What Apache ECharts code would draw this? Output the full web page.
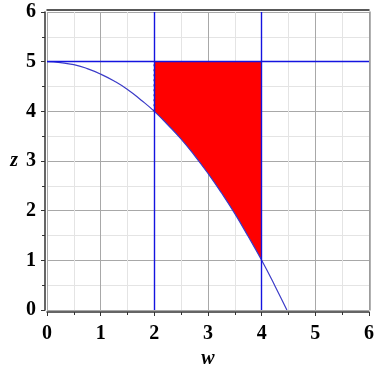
<!DOCTYPE html>
<html>
<head>
<meta charset="utf-8">
<script src="https://cdn.jsdelivr.net/npm/echarts@6/dist/echarts.min.js"></script>
<style>
  html, body { margin: 0; padding: 0; background: #fff; }
  #chart { width: 374px; height: 367px; }
</style>
</head>
<body>
<div id="chart"></div>
<script>
// curve z(w)
const curveW = [0, 0.25, 0.5, 0.75, 1, 1.25, 1.5, 1.75, 2, 2.25, 2.5, 2.75, 3, 3.25, 3.5, 3.75, 4, 4.25, 4.47];
const curveZ = [5, 4.98, 4.94, 4.86, 4.75, 4.61, 4.44, 4.23, 4, 3.73, 3.44, 3.11, 2.75, 2.36, 1.94, 1.48, 1, 0.48, 0];

// bounds of the shaded region
const wLeft = 2;
const wRight = 4;
const zTop = 5;

const tickLabels = ['0', '1', '2', '3', '4', '5', '6'];

const curveData = curveW.map((w, i) => [w, curveZ[i]]);

// region: top edge, then down the curve from wRight back to wLeft
const regionPts = [[wLeft, zTop], [wRight, zTop]];
for (let i = curveW.length - 1; i >= 0; i--) {
  if (curveW[i] >= wLeft && curveW[i] <= wRight) regionPts.push([curveW[i], curveZ[i]]);
}
const leftEdgeBottom = curveZ[curveW.indexOf(wLeft)];

const chart = echarts.init(document.getElementById('chart'));

const labelFont = {
  fontFamily: 'Liberation Serif',
  fontWeight: 'bold',
  fontSize: 20,
  color: '#000'
};

const axisCommon = {
  type: 'value',
  min: 0,
  max: 6,
  interval: 1,
  axisLine: { show: true, onZero: false, lineStyle: { color: '#333', width: 1.5 } },
  axisTick: { show: true, length: 4, lineStyle: { color: '#333' } },
  minorTick: { show: true, splitNumber: 2, length: 3, lineStyle: { color: '#333' } },
  splitLine: { show: true, lineStyle: { color: '#a8a8a8', width: 1 } },
  minorSplitLine: { show: true, lineStyle: { color: '#e4e4e4', width: 1 } }
};

const guideStyle = { color: '#1414e0', width: 1.4, type: 'solid' };

chart.setOption({
  backgroundColor: '#fff',
  animation: false,
  grid: { left: 47, right: 5, top: 12, bottom: 57, outerBoundsMode: 'none' },
  xAxis: [
    Object.assign({}, axisCommon, {
      position: 'bottom',
      offset: 2,
      axisLabel: Object.assign({ margin: 12, formatter: v => tickLabels[v] }, labelFont),
      name: 'w',
      nameLocation: 'middle',
      nameGap: 34,
      nameTextStyle: Object.assign({}, labelFont, { fontStyle: 'italic' })
    }),
    {
      type: 'value', min: 0, max: 6, position: 'top', offset: 2,
      axisLine: { show: true, onZero: false, lineStyle: { color: '#222', width: 1.5 } },
      axisTick: { show: false }, axisLabel: { show: false }, splitLine: { show: false }
    }
  ],
  yAxis: [
    Object.assign({}, axisCommon, {
      position: 'left',
      offset: 2,
      axisLabel: Object.assign({ margin: 9, formatter: v => tickLabels[v] }, labelFont),
      name: 'z',
      nameLocation: 'middle',
      nameGap: 27,
      nameRotate: 0,
      nameTextStyle: Object.assign({}, labelFont, { fontStyle: 'italic' })
    }),
    {
      type: 'value', min: 0, max: 6, position: 'right', offset: 1,
      axisLine: { show: true, onZero: false, lineStyle: { color: '#999', width: 1.5 } },
      axisTick: { show: false }, axisLabel: { show: false }, splitLine: { show: false }
    }
  ],
  series: [
    {
      type: 'custom',
      z: 2,
      renderItem: (params, api) => ({
        type: 'polygon',
        shape: { points: regionPts.map(p => api.coord(p)) },
        style: { fill: '#ff0000' }
      }),
      data: [[wLeft, zTop]],
      silent: true
    },
    {
      type: 'line',
      z: 3,
      data: curveData,
      smooth: true,
      showSymbol: false,
      lineStyle: { color: '#3b3bc8', width: 1.2 }
    },
    // guide lines w = 2, w = 4, z = 5
    {
      type: 'line',
      z: 3,
      data: [],
      markLine: {
        silent: true,
        symbol: 'none',
        label: { show: false },
        lineStyle: guideStyle,
        emphasis: { disabled: true },
        data: [
          { xAxis: wLeft, lineStyle: guideStyle },
          { xAxis: wRight, lineStyle: guideStyle },
          { yAxis: zTop, lineStyle: guideStyle }
        ]
      }
    },
    {
      type: 'line',
      z: 4,
      data: [[wLeft, leftEdgeBottom], [wLeft, zTop]],
      showSymbol: false,
      lineStyle: { color: '#1a1a60', width: 1.5, type: [2, 3] }
    }
  ]
});
</script>
</body>
</html>
